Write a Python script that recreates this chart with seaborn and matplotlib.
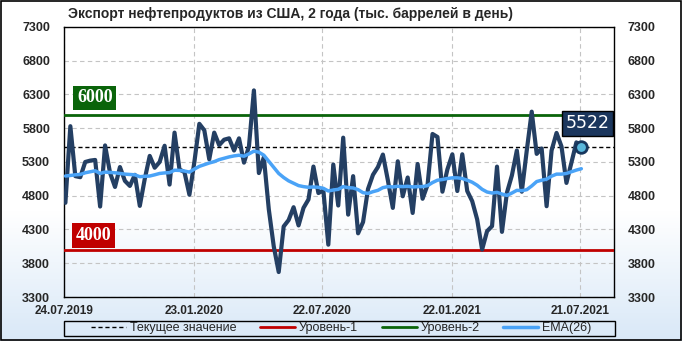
import pandas as pd
import numpy as np
import matplotlib
matplotlib.use('Agg')
import matplotlib.pyplot as plt
import seaborn as sns
from matplotlib.lines import Line2D
from matplotlib.patches import Rectangle

# недельные данные, пятница, с 26.07.2019
start_date = '2019-07-26'
export_values = [4695, 5830, 5090, 5075, 5300, 5320, 5330, 4640, 5545, 5140,
                 4930, 5225, 5020, 4945, 5110, 4650, 5050, 5390, 5215, 5300,
                 5540, 4965, 5735, 5190, 5150, 4815, 5300, 5865, 5770, 5340,
                 5735, 5550, 5630, 5650, 5470, 5650, 5290, 5530, 6360, 5136,
                 5370, 4600, 4050, 3670, 4345, 4440, 4630, 4360, 4620, 4745,
                 5232, 4840, 4880, 4075, 5262, 4655, 5660, 4520, 5090, 4243,
                 4410, 4900, 5110, 5225, 5410, 5030, 4620, 5310, 4792, 5070,
                 4545, 5270, 4755, 4960, 5715, 5670, 4860, 5190, 5414, 4870,
                 5414, 4870, 4720, 4450, 4003, 4275, 4350, 5231, 4265, 4845,
                 5100, 5470, 4860, 5470, 6045, 5420, 5500, 4645, 5470, 5730,
                 5530, 4990, 5290, 5590, 5522]
ema_values = [5092, 5100, 5110, 5115, 5140, 5155, 5170, 5130, 5150, 5145,
              5140, 5130, 5120, 5115, 5110, 5082, 5088, 5092, 5110, 5130,
              5138, 5142, 5178, 5175, 5166, 5150, 5195, 5235, 5260, 5285,
              5305, 5335, 5355, 5375, 5390, 5400, 5385, 5420, 5460, 5445,
              5400, 5310, 5220, 5130, 5070, 5020, 4985, 4950, 4935, 4925,
              4930, 4925, 4910, 4870, 4885, 4895, 4935, 4920, 4915, 4890,
              4845, 4835, 4860, 4880, 4920, 4935, 4930, 4940, 4935, 4940,
              4930, 4935, 4935, 4950, 4995, 5030, 5040, 5055, 5065, 5065,
              5055, 5030, 5000, 4955, 4895, 4855, 4840, 4850, 4825, 4805,
              4840, 4880, 4875, 4890, 4945, 5010, 5030, 5045, 5090, 5120,
              5120, 5130, 5155, 5180, 5200]
current_value = 5522
level_1 = 4000
level_2 = 6000
tick_dates = ['2019-07-24', '2020-01-23', '2020-07-22', '2021-01-22', '2021-07-21']
tick_labels = ['24.07.2019', '23.01.2020', '22.07.2020', '22.01.2021', '21.07.2021']
y_ticks = [3300, 3800, 4300, 4800, 5300, 5800, 6300, 6800, 7300]
title = 'Экспорт нефтепродуктов из США, 2 года (тыс. баррелей в день)'
legend_labels = ['Текущее значение', 'Уровень-1', 'Уровень-2', 'EMA(26)']

df = pd.DataFrame({'date': pd.date_range(start_date, periods=len(export_values), freq='7D'),
                   'value': export_values,
                   'ema': ema_values})

navy = '#243f63'
ema_col = '#4aa3f7'
red = '#c00000'
green = '#0a640a'

sns.set_theme(style='white')
plt.rcParams['font.family'] = ['Liberation Sans', 'DejaVu Sans']

fig = plt.figure(figsize=(6.82, 3.41), dpi=100)

# фон - градиент сверху вниз
bg = fig.add_axes([0, 0, 1, 1], zorder=-10)
bg.axis('off')
t = np.linspace(0, 1, 341)
k = np.clip((t - 0.62) / 0.38, 0, 1)[:, None]
top_c = np.array([1.0, 1.0, 1.0])
bot_c = np.array([0.85, 0.91, 0.97])
grad = (top_c * (1 - k) + bot_c * k)[:, None, :]
bg.imshow(grad, aspect='auto', extent=[0, 1, 0, 1])
fig.patches.append(Rectangle((0.001, 0.002), 0.997, 0.995, transform=fig.transFigure,
                             fill=False, ec='black', lw=1.2))
# рамка легенды
fig.patches.append(Rectangle((0.0938, 0.0147), 0.808, 0.044, transform=fig.transFigure,
                             fill=False, ec='black', lw=1))

ax = fig.add_axes([0.0938, 0.129, 0.8064, 0.792])
ax.patch.set_alpha(0)

sns.lineplot(data=df, x='date', y='value', color=navy, lw=3, ax=ax, zorder=4)
sns.lineplot(data=df, x='date', y='ema', color=ema_col, lw=2.5, ax=ax, zorder=5)
ax.axhline(level_1, color=red, lw=2, zorder=3)
ax.axhline(level_2, color=green, lw=2, zorder=3)
ax.axhline(current_value, color='black', lw=1, ls=(0, (3, 2)), zorder=3)
sns.scatterplot(data=df.tail(1), x='date', y='value', s=70, color='#5ab8dc',
                edgecolor='#17365d', linewidth=2, ax=ax, zorder=6)

ax.set_ylim(3300, 7300)
ax.set_yticks(y_ticks)
ax.set_xlim(pd.Timestamp('2019-07-24'), pd.Timestamp('2021-09-07'))
ax.set_xticks(pd.to_datetime(tick_dates))
ax.set_xticklabels(tick_labels)
ax.set_xlabel('')
ax.set_ylabel('')
ax.grid(True, ls=(0, (4, 3)), color='#c4c4c4', lw=0.8)
for s in ax.spines.values():
    s.set_color('black')
    s.set_linewidth(1)
ax.tick_params(axis='y', length=0, labelsize=9, pad=10, labelright=True)
ax.tick_params(axis='x', length=0, labelsize=8.5, pad=6)
for lbl in ax.get_xticklabels():
    lbl.set_fontweight('bold')
for tk in ax.yaxis.get_major_ticks():
    tk.label1.set_fontweight('bold')
    tk.label2.set_fontweight('bold')

ax.text(0.056, 0.737, str(level_2), transform=ax.transAxes, ha='center', va='center',
        color='white', fontsize=13, fontweight='bold', family='Liberation Serif',
        bbox=dict(boxstyle='square,pad=0.2', fc=green, ec='none'), zorder=7)
ax.text(0.053, 0.228, str(level_1), transform=ax.transAxes, ha='center', va='center',
        color='white', fontsize=13, fontweight='bold', family='Liberation Serif',
        bbox=dict(boxstyle='square,pad=0.2', fc=red, ec='none'), zorder=7)
ax.text(0.952, 0.643, str(current_value), transform=ax.transAxes, ha='center', va='center',
        color='white', fontsize=12.5, family='DejaVu Sans',
        bbox=dict(boxstyle='square,pad=0.2', fc='#1b365d', ec='black', lw=1), zorder=7)

fig.text(0.1, 0.958, title, ha='left', va='center', fontsize=10, fontweight='bold')

handles = [Line2D([], [], color='black', lw=1, ls=(0, (3, 2))),
           Line2D([], [], color=red, lw=2),
           Line2D([], [], color=green, lw=2),
           Line2D([], [], color=ema_col, lw=2.5)]
leg = fig.legend(handles, legend_labels, ncol=4, loc='center',
                 bbox_to_anchor=(0.5, 0.0367), fontsize=9,
                 frameon=False, handlelength=2.8, handletextpad=0.3,
                 columnspacing=1.9, borderpad=0, borderaxespad=0)

fig.savefig('out.png', dpi=100)
